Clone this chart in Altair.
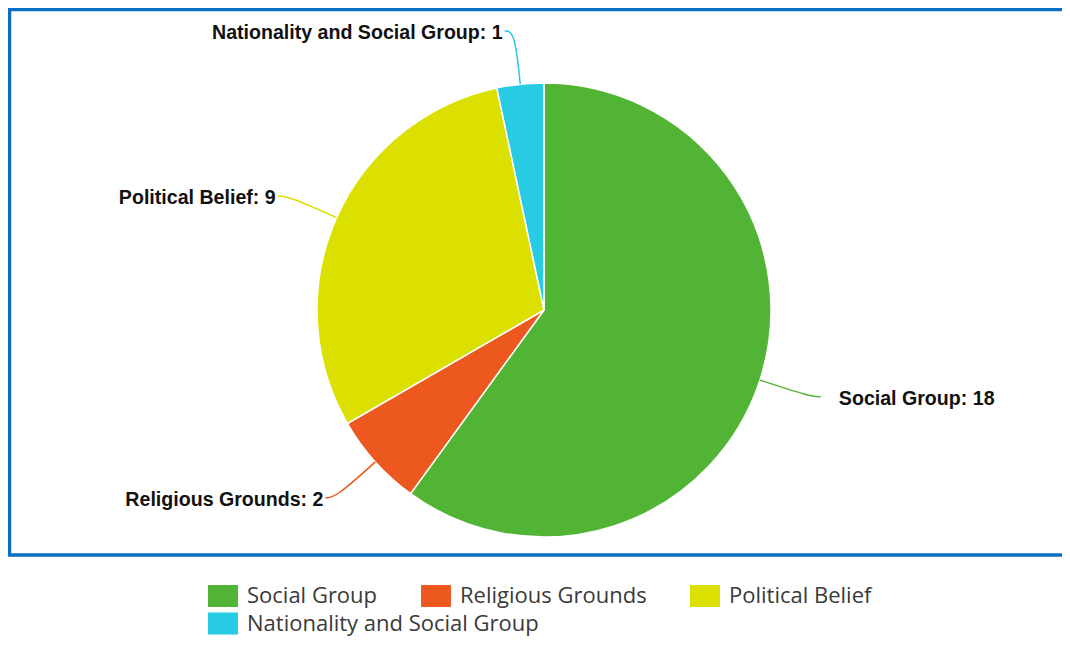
import math
import altair as alt
import pandas as pd

categories = ["Social Group", "Religious Grounds", "Political Belief", "Nationality and Social Group"]
values = [18, 2, 9, 1]
colors = ["#52B434", "#EC581E", "#DCE000", "#27CBE4"]

W, H = 1052.5, 545.5
CX, CY, R = 534.5, 300.5, 227

total = sum(values)
starts, ends = [], []
acc = 0
for v in values:
    starts.append(acc)
    acc += v
    ends.append(acc)
df = pd.DataFrame({"category": categories, "value": values, "start": starts, "end": ends})

# leader lines and labels derived from the data
lines, left_lbl, right_lbl = [], [], []
for c, v, s, e in zip(categories, values, starts, ends):
    mid = (s + e) / 2 / total * 2 * math.pi
    sx, sy = math.sin(mid), -math.cos(mid)
    p0 = (CX + R * sx, CY + R * sy)
    p1 = (CX + 1.236 * R * sx, CY + 1.236 * R * sy)
    side = 1 if sx >= 0 else -1
    p2 = (p1[0] + 10 * side, p1[1])
    for k, p in enumerate([p0, p1, p2]):
        lines.append({"category": c, "k": k, "px": p[0], "py": p[1]})
    rec = {"category": c, "px": p2[0], "py": p2[1], "label": f"{c}: {v}"}
    (right_lbl if side > 0 else left_lbl).append(rec)

xs = alt.Scale(domain=[0, W], nice=False, zero=False)
ys = alt.Scale(domain=[H, 0], nice=False, zero=False)
tscale = alt.Scale(domain=[0, total])
rect_sym = "M-1.364,-1L1.364,-1L1.364,1L-1.364,1Z"


def legend_for(ly):
    return alt.Legend(
        title=None,
        orient="none",
        legendX=202.5,
        legendY=ly,
        direction="horizontal",
        symbolType=rect_sym,
        symbolSize=484,
        symbolStrokeWidth=0,
        symbolOpacity=1,
        labelFont="Open Sans",
        labelFontSize=22,
        labelColor="#3A3A3A",
        labelOffset=13,
        columnPadding=42,
        labelLimit=400,
    )


def pie_part(cats, cols, ly):
    return alt.Chart(df).transform_filter(
        alt.FieldOneOfPredicate(field="category", oneOf=cats)
    ).mark_arc(outerRadius=R, stroke="white", strokeWidth=1.5).encode(
        theta=alt.Theta("start:Q", scale=tscale),
        theta2="end:Q",
        color=alt.Color("category:N", scale=alt.Scale(domain=cats, range=cols), sort=cats,
                        legend=legend_for(ly)),
        x=alt.value(CX),
        y=alt.value(CY),
    )


frame = alt.Chart(pd.DataFrame({"k": [0]})).mark_rect(
    filled=False, stroke="#0A6FC2", strokeWidth=3.5
).encode(x=alt.value(0), x2=alt.value(W + 20), y=alt.value(0), y2=alt.value(H))

pie_a = pie_part(categories[:3], colors[:3], 575.5)
pie_b = pie_part(categories[3:], colors[3:], 603)

leaders = alt.Chart(pd.DataFrame(lines)).mark_line(interpolate="basis", strokeWidth=1.5).encode(
    x=alt.X("px:Q", scale=xs, axis=None),
    y=alt.Y("py:Q", scale=ys, axis=None),
    detail="category:N",
    order="k:Q",
    color=alt.Color("category:N", scale=alt.Scale(domain=categories, range=colors), legend=None),
)

txt_right = alt.Chart(pd.DataFrame(right_lbl)).mark_text(
    align="left", baseline="middle", dx=18, dy=2.5, font="Liberation Sans", fontWeight="bold",
    fontSize=19.6, color="#111111",
).encode(x=alt.X("px:Q", scale=xs, axis=None), y=alt.Y("py:Q", scale=ys, axis=None), text="label:N")

txt_left = alt.Chart(pd.DataFrame(left_lbl)).mark_text(
    align="right", baseline="middle", dx=-2, dy=2.5, font="Liberation Sans", fontWeight="bold",
    fontSize=19.6, color="#111111",
).encode(x=alt.X("px:Q", scale=xs, axis=None), y=alt.Y("py:Q", scale=ys, axis=None), text="label:N")

chart = alt.layer(frame, pie_a, pie_b, leaders, txt_right, txt_left).resolve_scale(
    color="independent"
).properties(
    width=W, height=H,
    autosize=alt.AutoSizeParams(type="none"),
    padding={"left": 1.5, "top": 1.5, "right": 0, "bottom": 83},
).configure(background="white").configure_view(stroke="transparent")

chart.save("out.html", embed_options={"renderer": "svg", "actions": False})
